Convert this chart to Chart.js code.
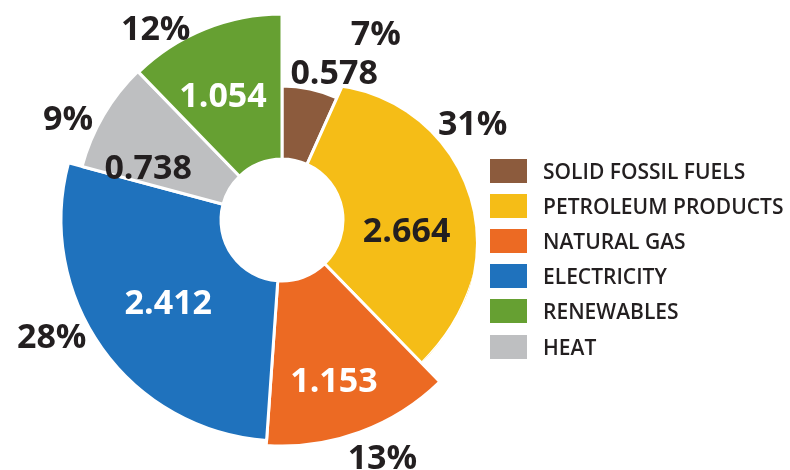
<!DOCTYPE html>
<html>
<head>
<meta charset="utf-8">
<title>Final energy consumption by source</title>
<script src="https://cdn.jsdelivr.net/npm/chart.js@4.4.1/dist/chart.umd.min.js"></script>
<style>
    html, body { margin: 0; padding: 0; background: #ffffff; }
    #wrap { position: relative; width: 790px; height: 470px; overflow: hidden; }
    #energy { display: block; }
    #legend {
        position: absolute;
        left: 490px;
        top: 153px;
        font-family: 'Open Sans', 'DejaVu Sans', sans-serif;
        font-size: 21px;
        font-weight: 600;
        color: #231f20;
    }
    .legend-row { display: flex; align-items: center; height: 35.2px; white-space: nowrap; }
    .legend-box { width: 37px; height: 24px; margin-right: 16px; flex: none; }
</style>
</head>
<body>
<div id="wrap">
    <canvas id="energy" width="790" height="470"></canvas>
    <div id="legend"></div>
</div>
<script>
// Slices go clockwise from 12 o'clock in this order
const categories = ['SOLID FOSSIL FUELS', 'PETROLEUM PRODUCTS', 'NATURAL GAS', 'ELECTRICITY', 'HEAT', 'RENEWABLES'];
const consumption = [0.578, 2.664, 1.153, 2.412, 0.738, 1.054];
const sliceColors = ['#8c5b3d', '#f5bd17', '#ec6a23', '#1f72bd', '#bebfc1', '#66a032'];

// Legend lists renewables before heat
const legendOrder = [0, 1, 2, 3, 5, 4];

// Ring shape: hole size and the outer radius of each slice (px)
const holeRadius = 61;
const outerRadii = [134, 200, 226, 221, 207, 206];

// The petroleum slice is trimmed by a smaller off-centre circle, so it
// swells from the top towards the bottom right
const petroleumTrim = { index: 1, dx: 37, dy: 23, r: 157 };

// Label spots as [distance from centre px, angle clockwise from top in degrees]
const valueSpots = [[157, 19.4], [125, 94.6], [168, 162], [140, 234.3], [144, 291.6], [138, 334.7]];
const shareSpots = [[209, 26.7], [214, 63], [257, 157], [258, 243.2], [237, 295.5], [230, 326.7]];
const valueInk = ['#231f20', '#231f20', '#ffffff', '#ffffff', '#231f20', '#ffffff'];

const total = consumption.reduce((a, b) => a + b, 0);
const shareOf = i => Math.round(consumption[i] / total * 100);

const ringShape = {
    id: 'ringShape',
    afterDatasetsUpdate(chart) {
        chart.getDatasetMeta(0).data.forEach((arc, i) => {
            arc.innerRadius = holeRadius;
            arc.outerRadius = outerRadii[i];
            if (i === petroleumTrim.index && !arc.trimmed) {
                const draw = arc.draw.bind(arc);
                arc.draw = function (ctx) {
                    ctx.save();
                    ctx.beginPath();
                    ctx.arc(this.x + petroleumTrim.dx, this.y + petroleumTrim.dy, petroleumTrim.r, 0, Math.PI * 2);
                    ctx.clip();
                    draw(ctx);
                    ctx.restore();
                };
                arc.trimmed = true;
            }
        });
    }
};

function putText(ctx, arc, spot, text, color, size) {
    const a = spot[1] * Math.PI / 180;
    const x = arc.x + spot[0] * Math.sin(a);
    const y = arc.y - spot[0] * Math.cos(a);
    ctx.font = `700 ${size}px 'Open Sans', 'DejaVu Sans', sans-serif`;
    ctx.fillStyle = color;
    // baseline shifted so the cap height is centred on the spot
    ctx.fillText(text, x, y + size * 0.357);
}

const sliceText = {
    id: 'sliceText',
    afterDatasetsDraw(chart) {
        const ctx = chart.ctx;
        const arcs = chart.getDatasetMeta(0).data;
        ctx.save();
        ctx.textAlign = 'center';
        ctx.textBaseline = 'alphabetic';
        arcs.forEach((arc, i) => {
            putText(ctx, arc, valueSpots[i], consumption[i].toFixed(3), valueInk[i], 34);
            putText(ctx, arc, shareSpots[i], shareOf(i) + '%', '#231f20', 34);
        });
        ctx.restore();
    }
};

new Chart(document.getElementById('energy'), {
    type: 'doughnut',
    data: {
        labels: categories,
        datasets: [{
            data: consumption,
            backgroundColor: sliceColors,
            borderColor: '#ffffff',
            borderWidth: 3
        }]
    },
    options: {
        responsive: false,
        animation: false,
        events: [],
        layout: { padding: { left: 0, right: 226, top: 0, bottom: 30 } },
        plugins: {
            legend: { display: false },
            tooltip: { enabled: false }
        }
    },
    plugins: [ringShape, sliceText]
});

// Legend beside the ring
const legend = document.getElementById('legend');
legendOrder.forEach(i => {
    const row = document.createElement('div');
    row.className = 'legend-row';
    row.innerHTML = `<span class="legend-box" style="background:${sliceColors[i]}"></span><span>${categories[i]}</span>`;
    legend.appendChild(row);
});
</script>
</body>
</html>
